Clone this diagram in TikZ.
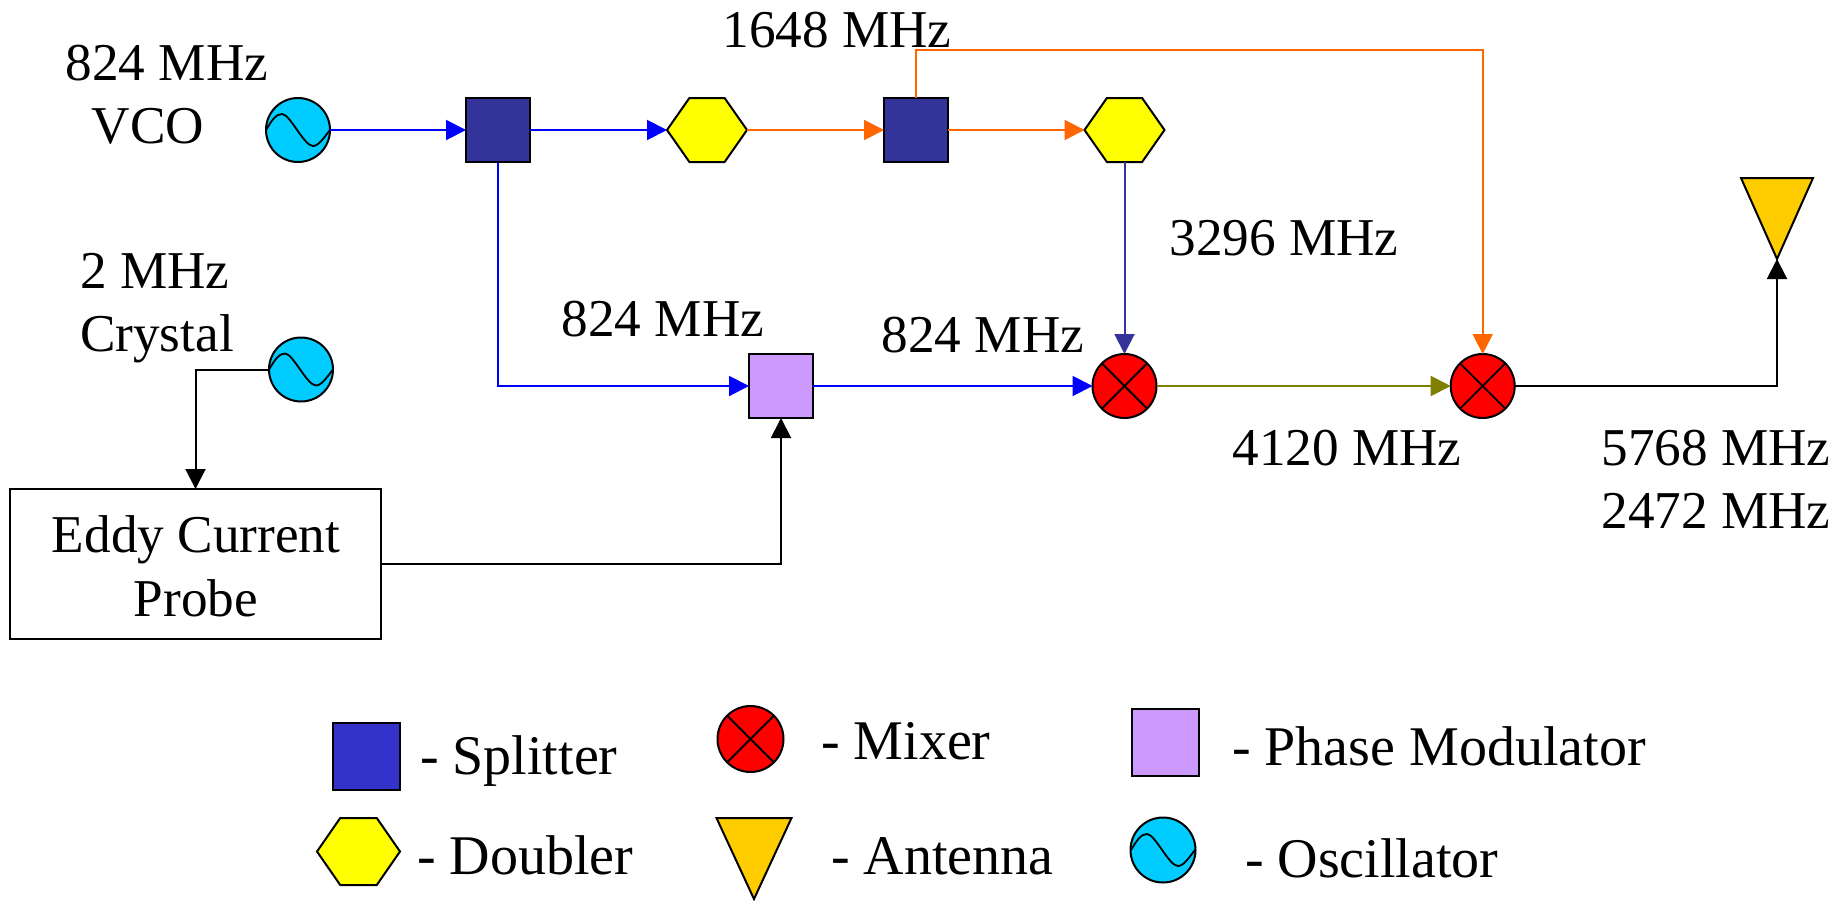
\documentclass[tikz,border=0pt]{standalone}
\usepackage{fontspec}
\setmainfont{Liberation Serif}
\usetikzlibrary{arrows.meta}
\definecolor{splitfill}{HTML}{333399}
\definecolor{legsplit}{HTML}{3333CC}
\definecolor{phasefill}{HTML}{CC99FF}
\definecolor{oscfill}{HTML}{00CCFF}
\definecolor{antfill}{HTML}{FFCC00}
\definecolor{hexfill}{HTML}{FFFF00}
\definecolor{orangeline}{HTML}{FF6600}
\definecolor{oliveline}{HTML}{808000}
\tikzset{
  x=1pt,y=-1pt,
  shapeline/.style={draw=black,line width=2pt},
  squarebox/.style={shapeline,rectangle,minimum width=#1,minimum height=#1,inner sep=0pt,outer sep=0pt},
  splitbox/.style={squarebox=64pt,fill=splitfill},
  phasebox/.style={squarebox=64pt,fill=phasefill},
  mixer/.style={shapeline,circle,fill=red,minimum size=64pt,inner sep=0pt,outer sep=0pt,
    path picture={\draw[line width=1.8pt]
      (path picture bounding box.north west)--(path picture bounding box.south east)
      (path picture bounding box.north east)--(path picture bounding box.south west);}},
  osc/.style={shapeline,circle,fill=oscfill,minimum size=64pt,inner sep=0pt,outer sep=0pt,
    path picture={\draw[line width=1.8pt,shift={(path picture bounding box.center)}]
      (-32,0) .. controls (-26,-10) and (-22,-16) .. (-16,-16)
      .. controls (-8,-16) and (6,16) .. (15,16)
      .. controls (21,16) and (27,6) .. (32,0);}},
  ghost/.style={rectangle,minimum width=#1,inner sep=0pt,outer sep=0pt},
  hexpoly/.style={shapeline,fill=hexfill,line join=miter},
  antpoly/.style={shapeline,fill=antfill,line join=miter},
  txt/.style={anchor=base west,inner sep=0pt,outer sep=0pt,font=\fontsize{56}{62}\selectfont},
  txtc/.style={anchor=base,inner sep=0pt,outer sep=0pt,font=\fontsize{53.2}{60}\selectfont},
  conn/.style={line width=2pt,-{Triangle[length=20pt,width=20pt]}},
}
\newcommand{\hexat}[5]{% name, x, y, width, height
  \node[ghost=#4 pt,minimum height=#5 pt] (#1) at (#2,#3) {};
  \draw[hexpoly] (#1.west) -- ([xshift=.28*#4 pt]#1.north west) -- ([xshift=-.28*#4 pt]#1.north east)
    -- (#1.east) -- ([xshift=-.28*#4 pt]#1.south east) -- ([xshift=.28*#4 pt]#1.south west) -- cycle;}
\newcommand{\antat}[5]{% name, x, y, width, height
  \node[ghost=#4 pt,minimum height=#5 pt] (#1) at (#2,#3) {};
  \draw[antpoly] (#1.north west) -- (#1.north east) -- (#1.south) -- cycle;}
\begin{document}
\begin{tikzpicture}
\useasboundingbox (0,0) rectangle (1845,900);
% main chain
\node[osc] (o1) at (298,130) {};
\node[splitbox] (s1) at (498,130) {};
\hexat{h1}{707}{130}{80}{64}
\node[splitbox] (s2) at (916,130) {};
\hexat{h2}{1124.5}{130}{80}{64}
\node[phasebox] (pm) at (781,386) {};
\node[mixer] (m1) at (1124.5,386) {};
\node[mixer] (m2) at (1482.7,386) {};
\node[osc] (o2) at (301,369.5) {};
\node[draw=black,line width=2pt,rectangle,minimum width=371pt,minimum height=150pt,inner sep=0pt,outer sep=0pt] (eddy) at (195.5,564) {};
\antat{ant}{1777}{218.5}{72}{81}
% connectors
\draw[conn,blue] (o1) -- (s1);
\draw[conn,blue] (s1) -- (h1.west);
\draw[conn,orangeline] (h1.east) -- (s2);
\draw[conn,orangeline] (s2) -- (h2.west);
\draw[conn,splitfill] (h2.south) -- (m1.north);
\draw[conn,blue] (s1.south) |- (pm.west);
\draw[conn,blue] (pm.east) -- (m1.west);
\draw[conn,oliveline] (m1.east) -- (m2.west);
\coordinate (topL) at (916,49.5);
\coordinate (topR) at (1482.7,49.5);
\draw[conn,orangeline] (s2.north) -- (topL) -- (topR) -- (m2.north);
\draw[conn,black] (m2.east) -| (ant.south);
\draw[conn,black] (o2.west) -| (eddy.north);
\coordinate (eddyOut) at (381,563.6);
\draw[conn,black] (eddyOut) -| (pm.south);
% labels
\node[txtc] (t1) at (167,80) {824 MHz};
\node[txtc] (t2) at (148,143.5) {VCO};
\node[txtc] (t3) at (837,47) {1648 MHz};
\node[txtc] (t4) at (1284,255) {3296 MHz};
\node[txtc] (t5) at (155,288) {2 MHz};
\node[txtc] (t6) at (157,351) {Crystal};
\node[txtc] (t7) at (663,336.5) {824 MHz};
\node[txtc] (t8) at (983,352) {824 MHz};
\node[txtc] (t9) at (1347,465) {4120 MHz};
\node[txtc] (t10) at (1716,465) {5768 MHz};
\node[txtc] (t11) at (1716,528) {2472 MHz};
\node[txtc] (t12) at (196,552) {Eddy Current};
\node[txtc] (t13) at (196,616) {Probe};
% legend
\node[squarebox=67pt,fill=legsplit] (ls) at (366.5,756) {};
\node[mixer,minimum size=66pt] (lm) at (750.5,739) {};
\node[squarebox=67pt,fill=phasefill] (lp) at (1165,742.5) {};
\hexat{lh}{358.5}{851.5}{83}{67}
\antat{la}{754}{858.5}{75}{81}
\node[osc,minimum size=65pt] (lo) at (1163,850) {};
\node[txt] (l1) at (420,774) {- Splitter};
\node[txt] (l2) at (821,759) {- Mixer};
\node[txt] (l3) at (1232,765) {- Phase Modulator};
\node[txt] (l4) at (417,874) {- Doubler};
\node[txt] (l5) at (831,874) {- Antenna};
\node[txt] (l6) at (1245,877) {- Oscillator};
\end{tikzpicture}
\end{document}
